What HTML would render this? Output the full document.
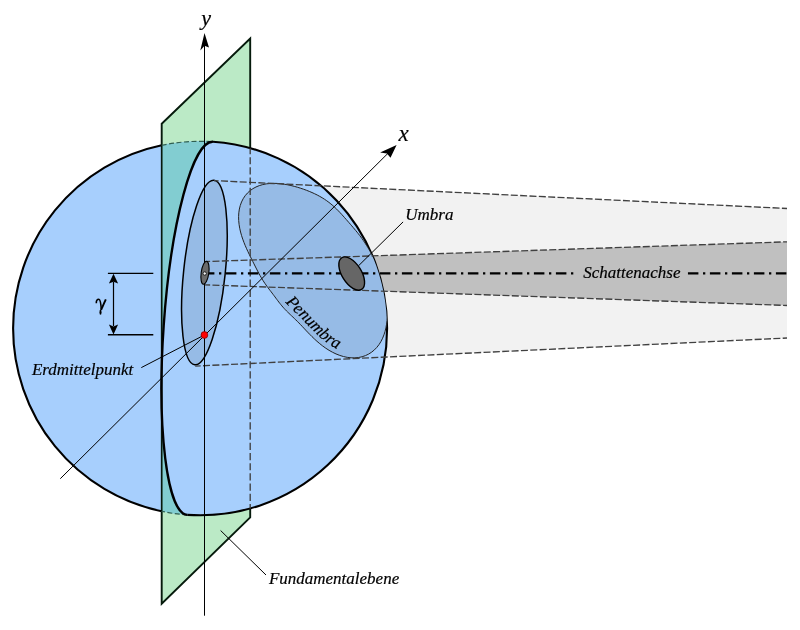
<!DOCTYPE html>
<html><head><meta charset="utf-8"><style>html,body{margin:0;padding:0;background:#fff;}svg{display:block;}</style></head>
<body><svg width="800" height="630" viewBox="0 0 800 630">
<rect width="800" height="630" fill="#fff"/>
<defs><clipPath id="cc"><circle cx="200.1" cy="328.3" r="187.0"/></clipPath></defs>
<polygon points="214.00,180.60 787.00,208.50 787.00,338.00 195.20,366.10" fill="#f2f2f2"/>
<polygon points="204.50,261.60 787.00,241.80 787.00,305.50 204.50,284.80" fill="#c0c0c0"/>
<polygon points="161.70,123.70 250.20,38.60 250.20,517.40 161.70,603.70" fill="#bbeac6" stroke="#061a0c" stroke-width="1.9" stroke-linejoin="miter"/>
<circle cx="200.1" cy="328.3" r="187.0" fill="#a7cffd"/>
<clipPath id="cp"><rect x="161.7" y="0" width="200" height="630"/></clipPath>
<path d="M212.98,141.74 A36.5,187.0 3.95 0 0 187.22,514.86 A187.0,187.0 0 0 1 13.10,328.30 A187.0,187.0 0 0 1 212.98,141.74 Z" fill="#82cdd1" clip-path="url(#cp)"/>
<line x1="161.7" y1="145.28513721558022" x2="161.7" y2="511.3148627844198" stroke="#061a0c" stroke-width="1.7"/>
<path d="M212.98,141.74 A187.0,187.0 0 0 1 387.10,328.30 A187.0,187.0 0 0 1 187.22,514.86" fill="none" stroke="#000" stroke-width="2.1"/>
<path d="M161.70,511.31 A187.0,187.0 0 0 1 13.10,328.30 A187.0,187.0 0 0 1 161.70,145.29" fill="none" stroke="#000" stroke-width="2.1"/>
<path d="M187.22,514.86 A187.0,187.0 0 0 1 161.70,511.31" fill="none" stroke="#2f5f50" stroke-width="1.2" stroke-dasharray="5 2.5"/>
<path d="M161.70,145.29 A187.0,187.0 0 0 1 212.98,141.74" fill="none" stroke="#2f5f50" stroke-width="1.2" stroke-dasharray="5 2.5"/>
<path d="M212.98,141.74 A36.5,187.0 3.95 0 0 187.22,514.86" fill="none" stroke="#000" stroke-width="2.35"/>
<g clip-path="url(#cc)"><path d="M257.08,270.00 L256.08,268.05 L255.05,266.02 L253.99,263.90 L252.88,261.69 L251.72,259.37 L250.50,256.93 L249.24,254.35 L247.94,251.63 L246.62,248.76 L245.29,245.72 L243.99,242.52 L242.74,239.17 L241.59,235.66 L240.57,232.02 L239.71,228.27 L239.08,224.43 L238.69,220.55 L238.59,216.66 L238.80,212.81 L239.36,209.05 L240.27,205.41 L241.54,201.96 L243.17,198.72 L245.14,195.74 L247.44,193.06 L250.04,190.69 L252.90,188.66 L255.99,186.97 L259.27,185.62 L262.69,184.60 L266.22,183.89 L269.80,183.48 L273.41,183.33 L277.02,183.42 L280.60,183.72 L284.12,184.18 L287.57,184.79 L290.94,185.52 L294.22,186.34 L297.41,187.23 L300.50,188.19 L303.51,189.20 L306.42,190.26 L309.25,191.38 L312.00,192.54 L314.66,193.75 L317.24,195.03 L319.74,196.37 L322.15,197.76 L324.48,199.23 L326.72,200.75 L328.87,202.34 L330.93,203.97 L332.91,205.65 L334.80,207.36 L336.61,209.09 L338.35,210.83 L340.01,212.57 L341.62,214.30 L343.17,216.02 L344.67,217.71 L346.14,219.38 L347.58,221.03 L348.99,222.65 L350.38,224.26 L351.76,225.84 L353.11,227.42 L354.45,229.00 L355.78,230.58 L357.08,232.17 L358.36,233.78 L359.62,235.40 L360.86,237.04 L362.07,238.71 L363.26,240.41 L364.42,242.13 L365.56,243.88 L366.68,245.65 L367.79,247.46 L368.88,249.30 L369.96,251.17 L371.04,253.07 L372.10,255.01 L373.16,257.00 L374.21,259.03 L375.24,261.11 L376.26,263.25 L377.26,265.44 L378.24,267.69 L379.19,270.00 L380.10,272.38 L380.97,274.82 L381.80,277.34 L382.59,279.92 L383.33,282.58 L384.01,285.31 L384.65,288.11 L385.23,291.00 L385.76,293.97 L386.22,297.02 L386.63,300.15 L386.95,303.37 L387.20,306.68 L387.34,310.06 L387.37,313.52 L387.27,317.03 L387.01,320.59 L386.57,324.18 L385.94,327.77 L385.08,331.32 L383.98,334.81 L382.62,338.20 L380.99,341.44 L379.08,344.50 L376.89,347.33 L374.41,349.89 L371.68,352.14 L368.69,354.05 L365.49,355.60 L362.09,356.75 L358.53,357.50 L354.85,357.85 L351.09,357.80 L347.29,357.36 L343.50,356.55 L339.75,355.40 L336.07,353.96 L332.51,352.24 L329.07,350.32 L325.79,348.21 L322.68,345.98 L319.74,343.67 L316.99,341.32 L314.41,338.96 L312.00,336.64 L309.75,334.38 L307.65,332.20 L305.68,330.11 L303.83,328.14 L302.08,326.28 L300.41,324.52 L298.82,322.88 L297.28,321.33 L295.80,319.86 L294.36,318.47 L292.96,317.13 L291.59,315.84 L290.25,314.58 L288.95,313.34 L287.69,312.11 L286.45,310.88 L285.26,309.65 L284.10,308.40 L282.98,307.15 L281.89,305.88 L280.84,304.61 L279.81,303.33 L278.81,302.05 L277.84,300.76 L276.87,299.47 L275.92,298.19 L274.97,296.91 L274.01,295.63 L273.04,294.34 L272.07,293.05 L271.08,291.76 L270.08,290.45 L269.07,289.11 L268.05,287.76 L267.02,286.37 L265.99,284.95 L264.97,283.49 L263.95,281.98 L262.94,280.43 L261.95,278.83 L260.97,277.17 L259.99,275.47 L259.03,273.70 L258.06,271.88 Z" fill="#96bbe6" stroke="#222" stroke-width="1"/></g>
<ellipse cx="204.4" cy="272.5" rx="20.8" ry="92.8" transform="rotate(5.95 204.4 272.5)" fill="#96bbe6" stroke="#000" stroke-width="1.5"/>
<line x1="250.2" y1="148.13621340569023" x2="250.2" y2="508.4637865943098" stroke="#404040" stroke-width="1.35" stroke-dasharray="7.2 3" stroke-dashoffset="1.2"/>
<line x1="214.0" y1="180.6" x2="787" y2="208.5" stroke="#404040" stroke-width="1.35" stroke-dasharray="7 2.36" stroke-dashoffset="2.39"/>
<line x1="195.2" y1="366.1" x2="787" y2="338.0" stroke="#404040" stroke-width="1.35" stroke-dasharray="7 2.36" stroke-dashoffset="1.52"/>
<line x1="204.5" y1="261.6" x2="787" y2="241.8" stroke="#404040" stroke-width="1.35" stroke-dasharray="7 2.36" stroke-dashoffset="1.39"/>
<line x1="204.5" y1="284.8" x2="787" y2="305.5" stroke="#404040" stroke-width="1.35" stroke-dasharray="7 2.36" stroke-dashoffset="1.39"/>
<line x1="204.5" y1="615.7" x2="204.5" y2="40" stroke="#000" stroke-width="1.0"/>
<path d="M204.5,33 L200.3,50.6 L204.5,45.8 L209,47.5 Z" fill="#000"/>
<line x1="60.3" y1="478.7" x2="391" y2="150.3" stroke="#000" stroke-width="1.0"/>
<path d="M396.6,145 L380.1,152.6 L386.9,153.4 L390.5,157.7 Z" fill="#000"/>
<line x1="203.9" y1="273.4" x2="787" y2="273.4" stroke="#000" stroke-width="2.4" stroke-dasharray="10.5 4.6 2.3 4.6"/>
<ellipse cx="205.0" cy="272.8" rx="3.8" ry="11.6" transform="rotate(8 205.0 272.8)" fill="#6a6a6a" stroke="#000" stroke-width="1.1"/>
<circle cx="204.7" cy="273.5" r="1.7" fill="#f4f4f4" stroke="#111" stroke-width="0.9"/>
<ellipse cx="351.7" cy="273.6" rx="18.7" ry="9.7" transform="rotate(58 351.7 273.6)" fill="#666" stroke="#000" stroke-width="1.4"/>
<line x1="141.3" y1="367.6" x2="204.4" y2="335" stroke="#000" stroke-width="1.0"/>
<line x1="403.1" y1="221.9" x2="358.6" y2="265.7" stroke="#000" stroke-width="1.0"/>
<line x1="220.6" y1="530.5" x2="266" y2="575" stroke="#000" stroke-width="1.0"/>
<circle cx="204.4" cy="335" r="3.4" fill="#f00" stroke="#700" stroke-width="0.7"/>
<line x1="107.9" y1="273.4" x2="153.3" y2="273.4" stroke="#000" stroke-width="1.2"/>
<line x1="107.9" y1="334.8" x2="153.3" y2="334.8" stroke="#000" stroke-width="1.6"/>
<line x1="113.5" y1="282" x2="113.5" y2="326" stroke="#000" stroke-width="1.2"/>
<path d="M113.50,273.80 L118.10,283.60 L113.50,281.64 L108.90,283.60 Z" fill="#000"/>
<path d="M113.50,334.40 L108.90,324.60 L113.50,326.56 L118.10,324.60 Z" fill="#000"/>
<text x="201.2" y="25.2" font-family="Liberation Serif" font-style="italic" stroke="#000" stroke-width="0.2" style="filter:grayscale(1)" font-size="22">y</text>
<text x="398.5" y="141.4" font-family="Liberation Serif" font-style="italic" stroke="#000" stroke-width="0.2" style="filter:grayscale(1)" font-size="23">x</text>
<text x="405.3" y="220.4" font-family="Liberation Serif" font-style="italic" stroke="#000" stroke-width="0.2" style="filter:grayscale(1)" font-size="17">Umbra</text>
<rect x="574.5" y="262" width="113" height="22" fill="#c0c0c0"/>
<text x="583.2" y="277.75" font-family="Liberation Serif" font-style="italic" stroke="#000" stroke-width="0.2" style="filter:grayscale(1)" font-size="17">Schattenachse</text>
<text x="31.9" y="375.2" font-family="Liberation Serif" font-style="italic" stroke="#000" stroke-width="0.2" style="filter:grayscale(1)" font-size="17">Erdmittelpunkt</text>
<text x="268.9" y="583.8" font-family="Liberation Serif" font-style="italic" stroke="#000" stroke-width="0.2" style="filter:grayscale(1)" font-size="17">Fundamentalebene</text>
<path id="pp" d="M249.89,243.76 L250.22,244.52 L250.54,245.26 L250.86,245.99 L251.18,246.71 L251.50,247.42 L251.83,248.12 L252.15,248.82 L252.47,249.51 L252.79,250.18 L253.11,250.86 L253.43,251.52 L253.74,252.17 L254.06,252.82 L254.37,253.46 L254.68,254.09 L254.99,254.72 L255.29,255.33 L255.59,255.94 L255.89,256.54 L256.19,257.14 L256.48,257.73 L256.77,258.31 L257.06,258.88 L257.35,259.45 L257.63,260.01 L257.91,260.57 L258.18,261.11 L258.45,261.66 L258.72,262.19 L258.99,262.72 L259.26,263.25 L259.52,263.77 L259.78,264.28 L260.03,264.79 L260.29,265.29 L260.54,265.78 L260.79,266.27 L261.03,266.76 L261.28,267.24 L261.52,267.71 L261.77,268.18 L262.01,268.65 L262.25,269.10 L262.48,269.56 L262.72,270.01 L262.96,270.45 L263.19,270.89 L263.42,271.33 L263.66,271.76 L263.89,272.19 L264.12,272.61 L264.36,273.03 L264.59,273.44 L264.82,273.85 L265.05,274.26 L265.29,274.66 L265.52,275.06 L265.75,275.45 L265.99,275.84 L266.22,276.23 L266.46,276.61 L266.69,277.00 L266.93,277.37 L267.16,277.75 L267.40,278.12 L267.64,278.49 L267.88,278.86 L268.12,279.22 L268.36,279.58 L268.60,279.94 L268.84,280.30 L269.08,280.65 L269.33,281.00 L269.57,281.35 L269.82,281.70 L270.06,282.05 L270.31,282.39 L270.56,282.74 L270.80,283.08 L271.05,283.42 L271.30,283.76 L271.55,284.09 L271.80,284.43 L272.05,284.76 L272.30,285.10 L272.55,285.43 L272.80,285.76 L273.05,286.09 L273.30,286.42 L273.55,286.75 L273.81,287.08 L274.06,287.41 L274.31,287.74 L274.56,288.07 L274.81,288.40 L275.06,288.72 L275.31,289.05 L275.55,289.38 L275.80,289.70 L276.05,290.03 L276.30,290.35 L276.55,290.68 L276.79,291.01 L277.04,291.33 L277.28,291.66 L277.53,291.98 L277.77,292.30 L278.01,292.63 L278.25,292.95 L278.50,293.28 L278.74,293.60 L278.98,293.92 L279.22,294.24 L279.46,294.57 L279.69,294.89 L279.93,295.21 L280.17,295.53 L280.41,295.85 L280.65,296.17 L280.88,296.49 L281.12,296.80 L281.36,297.12 L281.59,297.44 L281.83,297.75 L282.07,298.07 L282.31,298.38 L282.54,298.69 L282.78,299.00 L283.02,299.31 L283.26,299.62 L283.50,299.93 L283.74,300.24 L283.98,300.55 L284.23,300.85 L284.47,301.16 L284.72,301.46 L284.96,301.76 L285.21,302.06 L285.46,302.36 L285.71,302.66 L285.97,302.96 L286.22,303.26 L286.48,303.56 L286.74,303.85 L287.00,304.15 L287.26,304.44 L287.52,304.74 L287.79,305.03 L288.06,305.32 L288.33,305.62 L288.61,305.91 L288.88,306.20 L289.16,306.50 L289.44,306.79 L289.73,307.08 L290.01,307.37 L290.31,307.67 L290.60,307.96 L290.89,308.25 L291.19,308.55 L291.49,308.84 L291.80,309.14 L292.11,309.44 L292.42,309.74 L292.73,310.04 L293.05,310.34 L293.37,310.65 L293.69,310.95 L294.02,311.26 L294.35,311.57 L294.68,311.89 L295.02,312.21 L295.36,312.52 L295.70,312.85 L296.04,313.17 L296.39,313.50 L296.74,313.84 L297.10,314.17 L297.46,314.51 L297.82,314.86 L298.18,315.21 L298.55,315.56 L298.92,315.92 L299.29,316.28 L299.67,316.65 L300.05,317.03 L300.43,317.40 L300.82,317.79 L301.20,318.18 L301.60,318.57 L301.99,318.97 L302.39,319.38 L302.79,319.79 L303.20,320.21 L303.61,320.63 L304.02,321.06 L304.44,321.50 L304.86,321.94 L305.28,322.39 L305.71,322.84 L306.15,323.30 L306.58,323.77 L307.03,324.24 L307.48,324.72 L307.93,325.20 L308.39,325.69 L308.85,326.19 L309.32,326.69 L309.80,327.20 L310.28,327.71 L310.77,328.23 L311.27,328.75 L311.77,329.28 L312.29,329.81 L312.80,330.34 L313.33,330.89 L313.86,331.43 L314.40,331.98 L314.95,332.53 L315.51,333.08 L316.08,333.64 L316.66,334.20 L317.24,334.76 L317.83,335.32 L318.44,335.88 L319.05,336.45 L319.67,337.01 L320.30,337.57 L320.94,338.13 L321.59,338.69 L322.25,339.25 L322.92,339.81 L323.60,340.36 L324.28,340.91 L324.98,341.45 L325.69,341.99 L326.40,342.52 L327.13,343.05 L327.86,343.57 L328.60,344.08 L329.35,344.58 L330.11,345.07 L330.88,345.56 L331.65,346.03 L332.43,346.49 L333.22,346.95 L334.02,347.38 L334.82,347.81 L335.62,348.22 L336.44,348.62 L337.26,349.01 L338.08,349.37 L338.90,349.73 L339.73,350.06 L340.57,350.38 L341.40,350.68 L342.24,350.97 L343.08,351.24 L343.92,351.48 L344.76,351.71 L345.60,351.92 L346.44,352.11 L347.28,352.28 L348.11,352.42 L348.94,352.55 L349.77,352.66 L350.60,352.74 L351.42,352.81 L352.24,352.85 L353.05,352.88 L353.85,352.88 L354.65,352.86 L355.44,352.81 L356.23,352.75 L357.01,352.67 L357.78,352.56 L358.54,352.43 L359.29,352.29 L360.03,352.12 L360.83,351.91" fill="none" stroke="none"/>
<text font-family="Liberation Serif" font-style="italic" stroke="#000" stroke-width="0.2" style="filter:grayscale(1)" font-size="17"><textPath href="#pp" startOffset="68.5">Penumbra</textPath></text>
<path d="M96.3,303.2 C96.1,300.2 97.6,298.9 99.1,299.4 C100.6,300.1 101,304.5 101.3,309.6" fill="none" stroke="#000" stroke-width="1.6"/>
<path d="M105.8,299.3 L101.1,309.8" fill="none" stroke="#000" stroke-width="1.9"/>
<ellipse cx="100.5" cy="312.2" rx="1.05" ry="2.6" fill="#000"/>
</svg></body></html>
